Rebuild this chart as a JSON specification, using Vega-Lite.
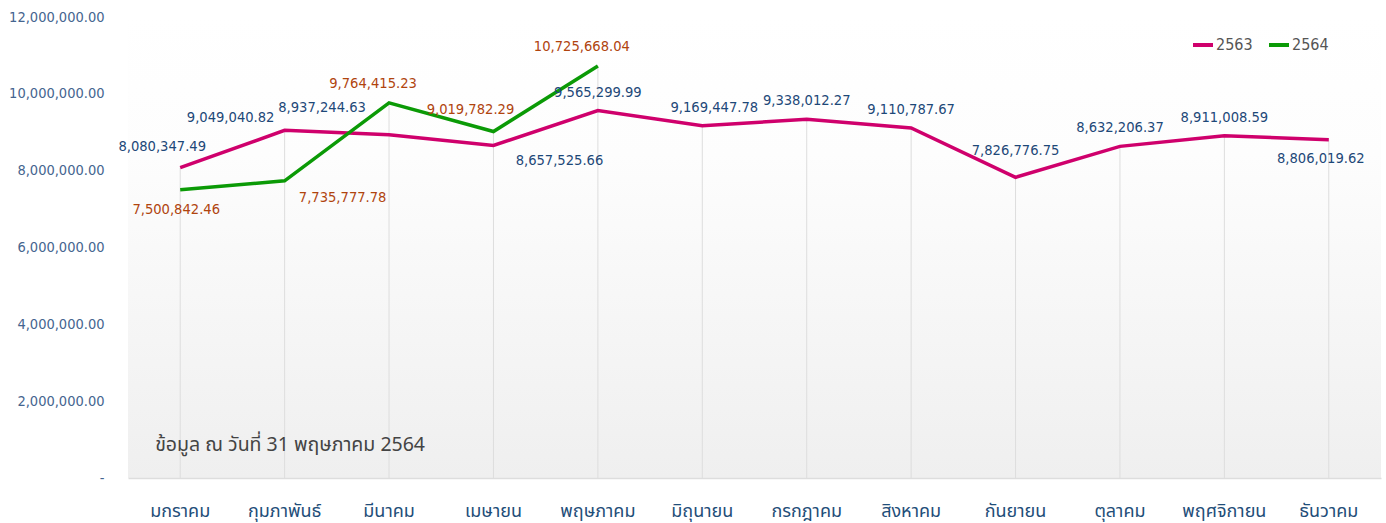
{
  "$schema": "https://vega.github.io/schema/vega-lite/v6.json",
  "width": 1253,
  "height": 461,
  "autosize": {"type": "none"},
  "padding": {"left": 128, "top": 17, "right": 5, "bottom": 45},
  "background": "white",
  "config": {
    "view": {"stroke": null, "fill": {"gradient": "linear", "x1": 0, "y1": 0, "x2": 0, "y2": 1, "stops": [{"offset": 0, "color": "#ffffff"}, {"offset": 0.3, "color": "#fdfdfd"}, {"offset": 1, "color": "#efefef"}]}},
    "font": "Tahoma, 'DejaVu Sans Condensed', sans-serif",
    "text": {"font": "'DejaVu Sans Condensed', Tahoma, sans-serif", "fontSize": 14.6, "baseline": "middle"}
  },
  "datasets": {
    "sales": [
      {"month": "มกราคม", "year": "2563", "value": 8080347.49},
      {"month": "กุมภาพันธ์", "year": "2563", "value": 9049040.82},
      {"month": "มีนาคม", "year": "2563", "value": 8937244.63},
      {"month": "เมษายน", "year": "2563", "value": 8657525.66},
      {"month": "พฤษภาคม", "year": "2563", "value": 9565299.99},
      {"month": "มิถุนายน", "year": "2563", "value": 9169447.78},
      {"month": "กรกฎาคม", "year": "2563", "value": 9338012.27},
      {"month": "สิงหาคม", "year": "2563", "value": 9110787.67},
      {"month": "กันยายน", "year": "2563", "value": 7826776.75},
      {"month": "ตุลาคม", "year": "2563", "value": 8632206.37},
      {"month": "พฤศจิกายน", "year": "2563", "value": 8911008.59},
      {"month": "ธันวาคม", "year": "2563", "value": 8806019.62},
      {"month": "มกราคม", "year": "2564", "value": 7500842.46},
      {"month": "กุมภาพันธ์", "year": "2564", "value": 7735777.78},
      {"month": "มีนาคม", "year": "2564", "value": 9764415.23},
      {"month": "เมษายน", "year": "2564", "value": 9019782.29},
      {"month": "พฤษภาคม", "year": "2564", "value": 10725668.04}
    ]
  },
  "data": {"name": "sales"},
  "encoding": {
    "x": {
      "field": "month", "type": "nominal",
      "sort": ["มกราคม","กุมภาพันธ์","มีนาคม","เมษายน","พฤษภาคม","มิถุนายน","กรกฎาคม","สิงหาคม","กันยายน","ตุลาคม","พฤศจิกายน","ธันวาคม"],
      "scale": {"paddingInner": 0, "paddingOuter": 0},
      "axis": {"title": null, "labelAngle": 0, "ticks": false, "grid": false, "domainColor": "#dddddd", "domainWidth": 1.5, "labelColor": "#1f4e79", "labelFontSize": 18, "labelPadding": 24, "labelFont": "Tahoma, 'Noto Sans Thai', 'DejaVu Sans', sans-serif"}
    },
    "y": {
      "field": "value", "type": "quantitative",
      "scale": {"domain": [0, 12000000], "nice": false},
      "axis": {"title": null, "values": [0, 2000000, 4000000, 6000000, 8000000, 10000000, 12000000], "grid": false, "domain": false, "ticks": false, "labelColor": "#45658f", "labelFontSize": 14.5, "labelPadding": 24, "labelExpr": "datum.value === 0 ? '-' : format(datum.value, ',.2f')"}
    }
  },
  "layer": [
    {
      "mark": {"type": "rule", "color": "#dddddd", "strokeWidth": 1},
      "encoding": {
        "x": {"field": "month", "type": "nominal", "sort": ["มกราคม","กุมภาพันธ์","มีนาคม","เมษายน","พฤษภาคม","มิถุนายน","กรกฎาคม","สิงหาคม","กันยายน","ตุลาคม","พฤศจิกายน","ธันวาคม"]},
        "y": {"aggregate": "max", "field": "value", "type": "quantitative"},
        "y2": {"datum": 0}
      }
    },
    {
      "mark": {"type": "line", "strokeWidth": 3.5, "strokeCap": "butt", "strokeJoin": "miter"},
      "encoding": {
        "color": {
          "field": "year", "type": "nominal",
          "scale": {"domain": ["2563", "2564"], "range": ["#cf006c", "#0b9a06"]},
          "legend": {"title": null, "orient": "none", "direction": "horizontal", "legendX": 1063, "legendY": 16, "symbolType": "stroke", "symbolStrokeWidth": 4, "symbolSize": 400, "labelFontSize": 16, "labelColor": "#555555", "labelOffset": 1, "columnPadding": 8, "padding": 0, "labelFont": "'DejaVu Sans Condensed', Tahoma, sans-serif"}
        }
      }
    },
    {
      "transform": [{"filter": "datum.year === '2563' && indexof(['พฤษภาคม','กรกฎาคม','สิงหาคม','ตุลาคม','พฤศจิกายน'], datum.month) >= 0"}],
      "mark": {"type": "text", "dy": -18, "color": "#1d4878"},
      "encoding": {"text": {"field": "value", "type": "quantitative", "format": ",.2f"}}
    },
    {
      "transform": [{"filter": "datum.year === '2563' && datum.month === 'มิถุนายน'"}],
      "mark": {"type": "text", "dx": 12, "dy": -18, "color": "#1d4878"},
      "encoding": {"text": {"field": "value", "type": "quantitative", "format": ",.2f"}}
    },
    {
      "transform": [{"filter": "datum.year === '2563' && datum.month === 'กันยายน'"}],
      "mark": {"type": "text", "dy": -26, "color": "#1d4878"},
      "encoding": {"text": {"field": "value", "type": "quantitative", "format": ",.2f"}}
    },
    {
      "transform": [{"filter": "datum.year === '2563' && datum.month === 'มกราคม'"}],
      "mark": {"type": "text", "dx": -18, "dy": -21, "color": "#1d4878"},
      "encoding": {"text": {"field": "value", "type": "quantitative", "format": ",.2f"}}
    },
    {
      "transform": [{"filter": "datum.year === '2563' && datum.month === 'กุมภาพันธ์'"}],
      "mark": {"type": "text", "dx": -54, "dy": -12, "color": "#1d4878"},
      "encoding": {"text": {"field": "value", "type": "quantitative", "format": ",.2f"}}
    },
    {
      "transform": [{"filter": "datum.year === '2563' && datum.month === 'มีนาคม'"}],
      "mark": {"type": "text", "dx": -67, "dy": -27, "color": "#1d4878"},
      "encoding": {"text": {"field": "value", "type": "quantitative", "format": ",.2f"}}
    },
    {
      "transform": [{"filter": "datum.year === '2563' && datum.month === 'เมษายน'"}],
      "mark": {"type": "text", "dx": 66, "dy": 16, "color": "#1d4878"},
      "encoding": {"text": {"field": "value", "type": "quantitative", "format": ",.2f"}}
    },
    {
      "transform": [{"filter": "datum.year === '2563' && datum.month === 'ธันวาคม'"}],
      "mark": {"type": "text", "dx": -8, "dy": 19, "color": "#1d4878"},
      "encoding": {"text": {"field": "value", "type": "quantitative", "format": ",.2f"}}
    },
    {
      "transform": [{"filter": "datum.year === '2564' && datum.month === 'มกราคม'"}],
      "mark": {"type": "text", "dx": -4, "dy": 20, "color": "#b0440e"},
      "encoding": {"text": {"field": "value", "type": "quantitative", "format": ",.2f"}}
    },
    {
      "transform": [{"filter": "datum.year === '2564' && datum.month === 'กุมภาพันธ์'"}],
      "mark": {"type": "text", "dx": 58, "dy": 17, "color": "#b0440e"},
      "encoding": {"text": {"field": "value", "type": "quantitative", "format": ",.2f"}}
    },
    {
      "transform": [{"filter": "datum.year === '2564' && (datum.month === 'มีนาคม' || datum.month === 'พฤษภาคม')"}],
      "mark": {"type": "text", "dx": -16, "dy": -19, "color": "#b0440e"},
      "encoding": {"text": {"field": "value", "type": "quantitative", "format": ",.2f"}}
    },
    {
      "transform": [{"filter": "datum.year === '2564' && datum.month === 'เมษายน'"}],
      "mark": {"type": "text", "dx": -23, "dy": -21, "color": "#b0440e"},
      "encoding": {"text": {"field": "value", "type": "quantitative", "format": ",.2f"}}
    },
    {
      "data": {"values": [{"note": "ข้อมูล ณ วันที่ 31 พฤษภาคม 2564", "month": "มกราคม", "pos": 850000}]},
      "mark": {"type": "text", "align": "left", "dx": -25, "fontSize": 19.5, "color": "#444444", "font": "Tahoma, 'Noto Sans Thai', 'DejaVu Sans Condensed', sans-serif"},
      "encoding": {
        "x": {"field": "month", "type": "nominal", "sort": ["มกราคม","กุมภาพันธ์","มีนาคม","เมษายน","พฤษภาคม","มิถุนายน","กรกฎาคม","สิงหาคม","กันยายน","ตุลาคม","พฤศจิกายน","ธันวาคม"]},
        "y": {"field": "pos", "type": "quantitative"},
        "text": {"field": "note"}
      }
    }
  ]
}
